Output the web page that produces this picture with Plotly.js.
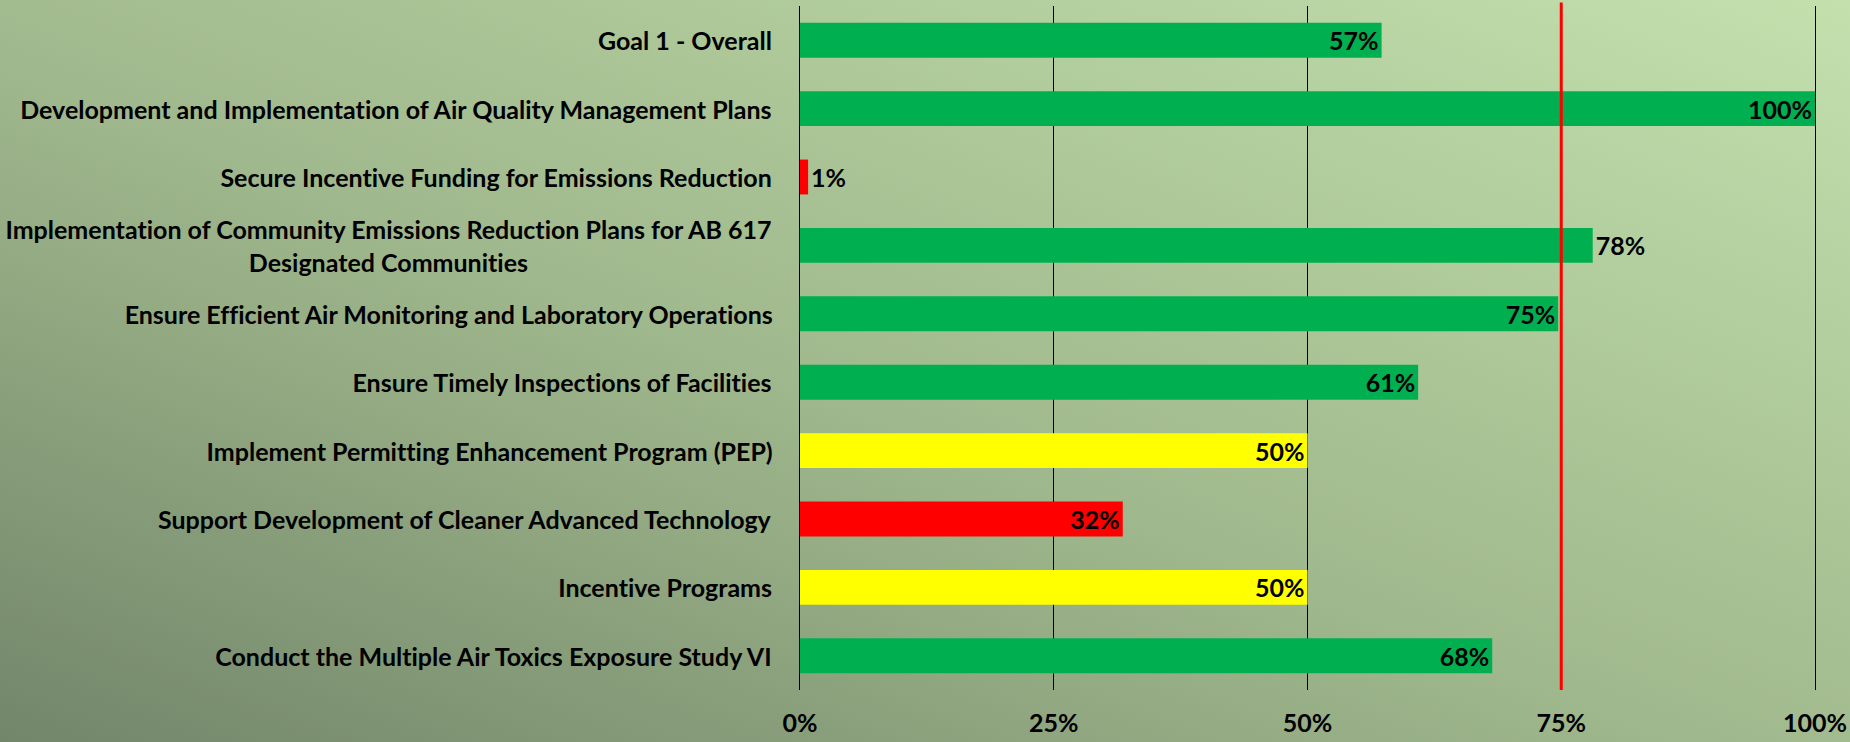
<!DOCTYPE html>
<html>
<head>
<meta charset="utf-8">
<script src="https://cdn.plot.ly/plotly-3.0.1.min.js"></script>
<style>
  html, body { margin: 0; padding: 0; }
  body { width: 1850px; height: 742px; overflow: hidden;
         background: linear-gradient(to top right, #72866a 0%, #9fb78c 45%, #c3e0ad 100%); }
  #chart { width: 1850px; height: 742px; }
  #chart text { font-variant-ligatures: none; font-feature-settings: "liga" 0; }
</style>
</head>
<body>
<div id="chart"></div>
<script>
// Categories, top to bottom as shown
const categories = [
  "Goal 1 - Overall",
  "Development and Implementation of Air Quality Management Plans",
  "Secure Incentive Funding for Emissions Reduction",
  "Implementation of Community Emissions Reduction Plans for AB 617<br>Designated Communities",
  "Ensure Efficient Air Monitoring and Laboratory Operations",
  "Ensure Timely Inspections of Facilities",
  "Implement Permitting Enhancement Program (PEP)",
  "Support Development of Cleaner Advanced Technology",
  "Incentive Programs",
  "Conduct the Multiple Air Toxics Exposure Study VI"
];
// Progress values (fraction complete)
const progress = [0.573, 1.00, 0.008, 0.781, 0.747, 0.609, 0.50, 0.318, 0.50, 0.682];
// Status for each category
const status = ["green", "green", "red", "green", "green", "green", "yellow", "red", "yellow", "green"];
// Label position for each value
const labelPos = ["inside", "inside", "outside", "outside", "inside", "inside", "inside", "inside", "inside", "inside"];
// Target line
const target = 0.75;
// X-axis ticks
const tickVals = [0, 0.25, 0.5, 0.75, 1.0];
const tickText = ["0%", "25%", "50%", "75%", "100%"];

const statusColor = { green: "#00B050", red: "#FF0000", yellow: "#FFFF00" };
const FONT = "Lato, 'Open Sans', sans-serif";
const FS = 25;

const trace = {
  type: "bar",
  orientation: "h",
  y: categories,
  x: progress,
  marker: { color: status.map(s => statusColor[s]), line: { width: 0 } },
  texttemplate: "%{x:.0%}",
  textposition: labelPos,
  insidetextanchor: "end",
  constraintext: "none",
  cliponaxis: false,
  textfont: { family: FONT, size: FS, color: "#000", weight: "bold" },
  insidetextfont: { family: FONT, size: FS, color: "#000", weight: "bold" },
  outsidetextfont: { family: FONT, size: FS, color: "#000", weight: "bold" },
  hoverinfo: "skip"
};

const annotations = categories.map(c => ({
  xref: "x", yref: "y", x: 0, y: c,
  xanchor: "right", yanchor: "middle", xshift: -26,
  align: "center", showarrow: false, text: c,
  font: { family: FONT, size: FS, color: "#000", weight: "bold" }
}));

const layout = {
  width: 1850, height: 742,
  paper_bgcolor: "rgba(0,0,0,0)",
  plot_bgcolor: "rgba(0,0,0,0)",
  margin: { l: 800, r: 35, t: 6, b: 52, pad: 0 },
  bargap: 0.49,
  showlegend: false,
  font: { family: FONT, color: "#000" },
  xaxis: {
    range: [0, 1], fixedrange: true,
    tickvals: tickVals, ticktext: tickText,
    showgrid: true, gridcolor: "#000", gridwidth: 1.3,
    zeroline: false, showline: false,
    ticks: "", ticklabelstandoff: 16,
    tickfont: { family: FONT, size: FS, color: "#000", weight: "bold" }
  },
  yaxis: {
    type: "category", autorange: "reversed", fixedrange: true,
    showticklabels: false, showgrid: false, zeroline: false,
    showline: true, mirror: true, linecolor: "#000", linewidth: 1.3, ticks: ""
  },
  shapes: [{
    type: "line", xref: "x", yref: "paper",
    x0: target, x1: target, y0: 0, y1: 1.005,
    line: { color: "#FF0000", width: 3 }
  }],
  annotations: annotations
};

Plotly.newPlot("chart", [trace], layout, { displayModeBar: false, staticPlot: true });
</script>
</body>
</html>
